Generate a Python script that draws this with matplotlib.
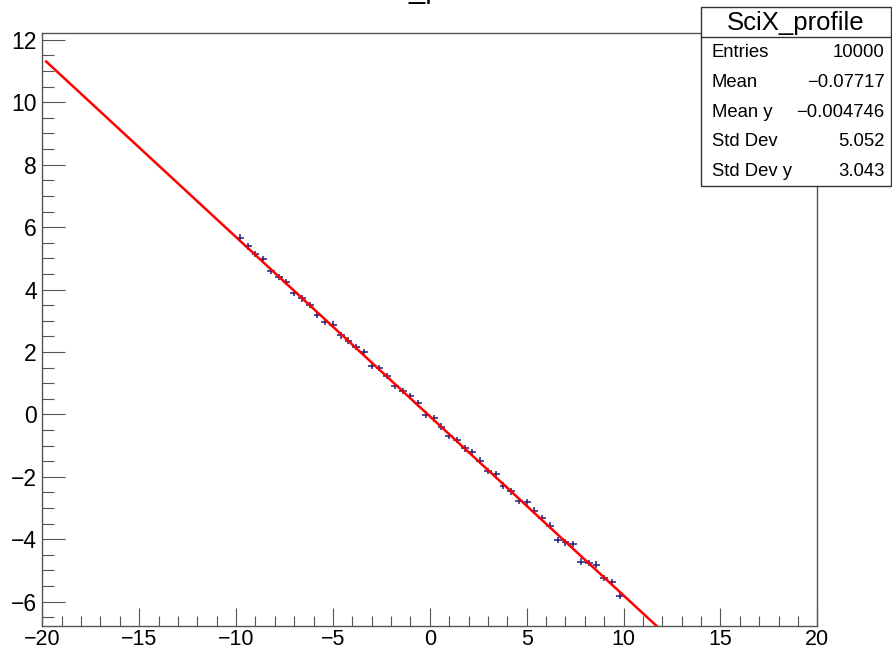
import numpy as np
import matplotlib.pyplot as plt
from matplotlib.patches import Rectangle
from matplotlib.lines import Line2D
from matplotlib.ticker import MultipleLocator

plt.rcParams['font.family'] = ['Liberation Sans', 'DejaVu Sans']

# profile binning: 100 bins over [-20, 20], only bins 25..74 are filled
n_bins = 100
x_lo, x_hi = -20.0, 20.0
first_bin = 25

# mean y per filled bin and its error
profile_y = [5.65, 5.38, 5.14, 4.97, 4.60, 4.40, 4.24, 3.90, 3.72, 3.51,
             3.19, 2.97, 2.87, 2.53, 2.36, 2.15, 1.99, 1.56, 1.48, 1.23,
             0.91, 0.75, 0.58, 0.35, -0.01, -0.13, -0.40, -0.69, -0.81, -1.09,
             -1.21, -1.49, -1.81, -1.91, -2.28, -2.47, -2.77, -2.81, -3.08, -3.33,
             -3.56, -4.02, -4.10, -4.15, -4.72, -4.77, -4.82, -5.25, -5.38, -5.81]
profile_err = [0.12, 0.11, 0.11, 0.12, 0.10, 0.11, 0.11, 0.10, 0.11, 0.10,
               0.11, 0.10, 0.11, 0.10, 0.11, 0.10, 0.10, 0.11, 0.10, 0.11,
               0.10, 0.11, 0.10, 0.10, 0.11, 0.10, 0.11, 0.10, 0.10, 0.11,
               0.10, 0.11, 0.10, 0.11, 0.10, 0.11, 0.10, 0.10, 0.11, 0.10,
               0.11, 0.10, 0.11, 0.10, 0.11, 0.10, 0.11, 0.10, 0.11, 0.12]

# pol1 fit result
fit_p0 = -0.06
fit_p1 = -0.574
fit_x = [-19.8, 20.0]

stats_title = 'SciX_profile'
stats_names = ['Entries', 'Mean', 'Mean y', 'Std Dev', 'Std Dev y']
stats_values = ['10000', '\u22120.07717', '\u22120.004746', '5.052', '3.043']

W, H = 892, 652
fig = plt.figure(figsize=(W / 100, H / 100), dpi=100)

# frame in pixels
left, right, top, bottom = 42.3, 817.3, 33.3, 625.7
ax = fig.add_axes([left / W, 1 - bottom / H, (right - left) / W, (bottom - top) / H])

width = (x_hi - x_lo) / n_bins
centers = x_lo + width * (np.arange(n_bins) + 0.5)
xs = centers[first_bin:first_bin + len(profile_y)]

ax.errorbar(xs, profile_y, xerr=width / 2, yerr=profile_err, fmt='none',
            ecolor='#1c1c80', elinewidth=1.1, capsize=0, zorder=3)

fx = np.array(fit_x)
ax.plot(fx, fit_p0 + fit_p1 * fx, color='#ff0000', lw=1.8, zorder=4)

ax.set_xlim(x_lo, x_hi)
ax.set_ylim(-6.77, 12.21)

frame_col = '#555555'
for s in ax.spines.values():
    s.set_color(frame_col)
    s.set_linewidth(1.0)

ax.xaxis.set_major_locator(MultipleLocator(5))
ax.xaxis.set_minor_locator(MultipleLocator(1))
ax.yaxis.set_major_locator(MultipleLocator(2))
ax.yaxis.set_minor_locator(MultipleLocator(0.5))
ax.tick_params(axis='x', which='major', direction='in', length=13, width=0.8,
               color=frame_col, labelsize=15.5, pad=2.5, top=False)
ax.tick_params(axis='x', which='minor', direction='in', length=7, width=0.8,
               color=frame_col, top=False)
ax.tick_params(axis='y', which='major', direction='in', length=16.5, width=0.8,
               color=frame_col, labelsize=16.5, pad=4, right=False)
ax.tick_params(axis='y', which='minor', direction='in', length=8.6, width=0.8,
               color=frame_col, right=False)

# histogram title, mostly above the canvas edge
fig.text(428 / W, 1 + 2 / H, stats_title, ha='center', va='baseline', fontsize=21)

# stats box
bx0, by0, bx1, by1 = 701, 7, 891, 186
fig.patches.append(Rectangle((bx0 / W, 1 - by1 / H), (bx1 - bx0) / W, (by1 - by0) / H,
                             transform=fig.transFigure, facecolor='white',
                             edgecolor='#333333', lw=1.0, zorder=10))
fig.lines.append(Line2D([bx0 / W, bx1 / W], [1 - 37 / H, 1 - 37 / H],
                        transform=fig.transFigure, color='#333333', lw=1.0, zorder=11))
fig.text((bx0 + bx1) / 2 / W, 1 - 22.7 / H, stats_title, ha='center', va='center',
         fontsize=18.5, zorder=12)
for i, (name, val) in enumerate(zip(stats_names, stats_values)):
    yy = 1 - (52.7 + 29.75 * i) / H
    fig.text(711.7 / W, yy, name, ha='left', va='center', fontsize=13.3, zorder=12)
    fig.text(884.3 / W, yy, val, ha='right', va='center', fontsize=13.3, zorder=12)

fig.savefig('out.png', dpi=100)
